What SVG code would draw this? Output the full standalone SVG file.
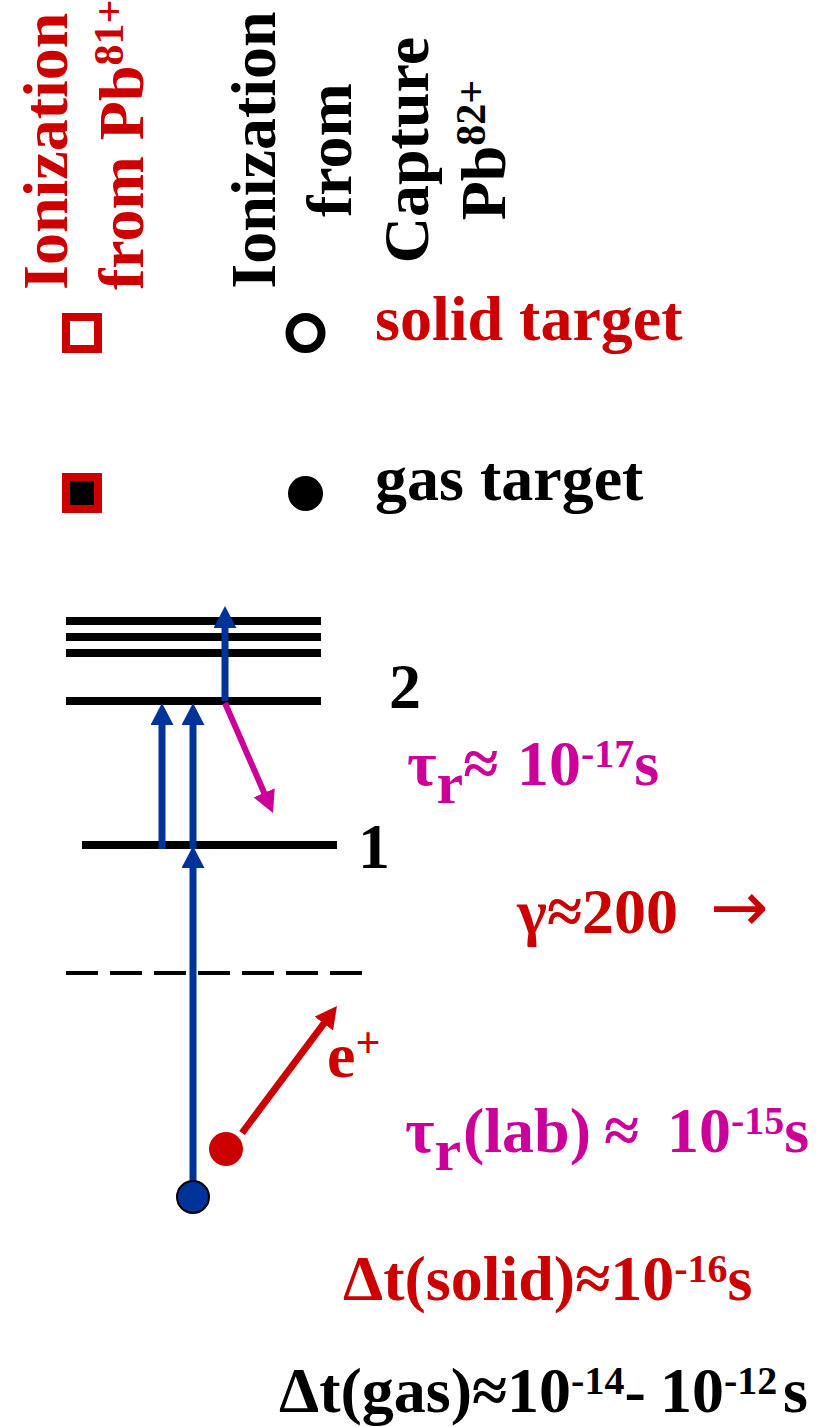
<svg xmlns="http://www.w3.org/2000/svg" width="820" height="1427" viewBox="0 0 820 1427">
<style>
text{font-family:"Liberation Serif","DejaVu Serif",serif;font-weight:bold;font-size:64px}
.red{fill:#CC0000}
.blk{fill:#000000}
.mag{fill:#CC0099}
.lvl{stroke:#000;stroke-width:8}
.blue{stroke:#003399;stroke-width:7;fill:none}
.sup{font-size:40px}
.mid{text-anchor:middle}
.arr{font-family:"DejaVu Sans",sans-serif;font-weight:normal;font-size:70px}
</style>
<defs>
<marker id="hb" markerUnits="userSpaceOnUse" markerWidth="24" markerHeight="24" refX="2" refY="11.5" orient="auto">
<path d="M0,0 L22,11.5 L0,23 z" fill="#003399"/>
</marker>
<marker id="hm" markerUnits="userSpaceOnUse" markerWidth="24" markerHeight="24" refX="2" refY="11.5" orient="auto">
<path d="M0,0 L22,11.5 L0,23 z" fill="#CC0099"/>
</marker>
<marker id="hr" markerUnits="userSpaceOnUse" markerWidth="24" markerHeight="24" refX="2" refY="11.5" orient="auto">
<path d="M0,0 L22,11.5 L0,23 z" fill="#CC0000"/>
</marker>
</defs>
<rect width="820" height="1427" fill="#fff"/>

<g id="header-red">
<text class="red" transform="translate(67,290) rotate(-90)">Ionization</text>
<text class="red" transform="translate(143,290) rotate(-90)">from Pb<tspan font-size="42" dy="-20">81+</tspan></text>
</g>
<g id="header-black">
<text class="blk mid" transform="translate(275,150) rotate(-90)">Ionization</text>
<text class="blk mid" transform="translate(351,150) rotate(-90)">from</text>
<text class="blk mid" transform="translate(428,150) rotate(-90)">Capture</text>
<text class="blk mid" transform="translate(505,150) rotate(-90)">Pb<tspan font-size="42" dy="-20">82+</tspan></text>
</g>

<g id="legend-solid">
<rect x="66" y="317" width="32" height="32" fill="#fff" stroke="#CC0000" stroke-width="8"/>
<circle cx="305.5" cy="333" r="16" fill="none" stroke="#000" stroke-width="8"/>
<text class="red" x="375" y="340">solid target</text>
</g>
<g id="legend-gas">
<rect x="66" y="477" width="32" height="32" fill="#000" stroke="#CC0000" stroke-width="8"/>
<circle cx="305.5" cy="493.5" r="17.5" fill="#000"/>
<text class="blk" x="375" y="500">gas target</text>
</g>

<g id="levels">
<line class="lvl" x1="66" y1="621" x2="321" y2="621"/>
<line class="lvl" x1="66" y1="637" x2="321" y2="637"/>
<line class="lvl" x1="66" y1="653" x2="321" y2="653"/>
<line class="lvl" x1="66" y1="701" x2="321" y2="701"/>
<line class="lvl" x1="82" y1="845" x2="337" y2="845"/>
<line x1="66" y1="973" x2="362" y2="973" stroke="#000" stroke-width="4" stroke-dasharray="32 12"/>
<text class="blk" x="389" y="708" font-size="60">2</text>
<text class="blk" x="358" y="868" font-size="60">1</text>
</g>

<g id="particles">
<circle cx="226" cy="1149" r="17" fill="#CC0000"/>
<text class="red" x="327" y="1077" font-size="56">e<tspan font-size="44" dy="-20">+</tspan></text>
</g>

<g id="connectors">
<line class="blue" x1="162" y1="849" x2="162" y2="723" marker-end="url(#hb)"/>
<line class="blue" x1="193" y1="849" x2="193" y2="723" marker-end="url(#hb)"/>
<line class="blue" x1="225" y1="701" x2="225" y2="626" marker-end="url(#hb)"/>
<line class="blue" x1="193" y1="1185" x2="193" y2="866" marker-end="url(#hb)"/>
<line x1="225" y1="703" x2="265" y2="794.7" stroke="#CC0099" stroke-width="6" marker-end="url(#hm)"/>
<line x1="242" y1="1133" x2="325" y2="1022" stroke="#CC0000" stroke-width="7" marker-end="url(#hr)"/>
</g>

<g id="ground">
<circle cx="193" cy="1197" r="16" fill="#003399" stroke="#000" stroke-width="2"/>
</g>

<g id="labels">
<text class="mag" x="407" y="785">τ<tspan font-size="60" dy="18">r</tspan><tspan dy="-18">≈</tspan><tspan x="517">10</tspan><tspan class="sup" dy="-18">-17</tspan><tspan dy="18">s</tspan></text>
<text class="red" x="517" y="933">γ≈200<tspan class="arr" x="710" dy="-2">→</tspan></text>
<text class="mag" x="405" y="1152">τ<tspan font-size="60" dy="18">r</tspan><tspan x="463" dy="-18">(lab)</tspan><tspan x="604">≈</tspan><tspan x="667">10</tspan><tspan class="sup" dy="-18">-15</tspan><tspan dy="18">s</tspan></text>
<text class="red" x="343" y="1300">Δt(solid)≈10<tspan class="sup" dy="-18">-16</tspan><tspan dy="18">s</tspan></text>
<text class="blk" x="279" y="1412">Δt(gas)≈10<tspan class="sup" dy="-18">-14</tspan><tspan dy="18">-</tspan><tspan x="660">10</tspan><tspan class="sup" dy="-18">-12</tspan><tspan x="783" dy="18">s</tspan></text>
</g>
</svg>
